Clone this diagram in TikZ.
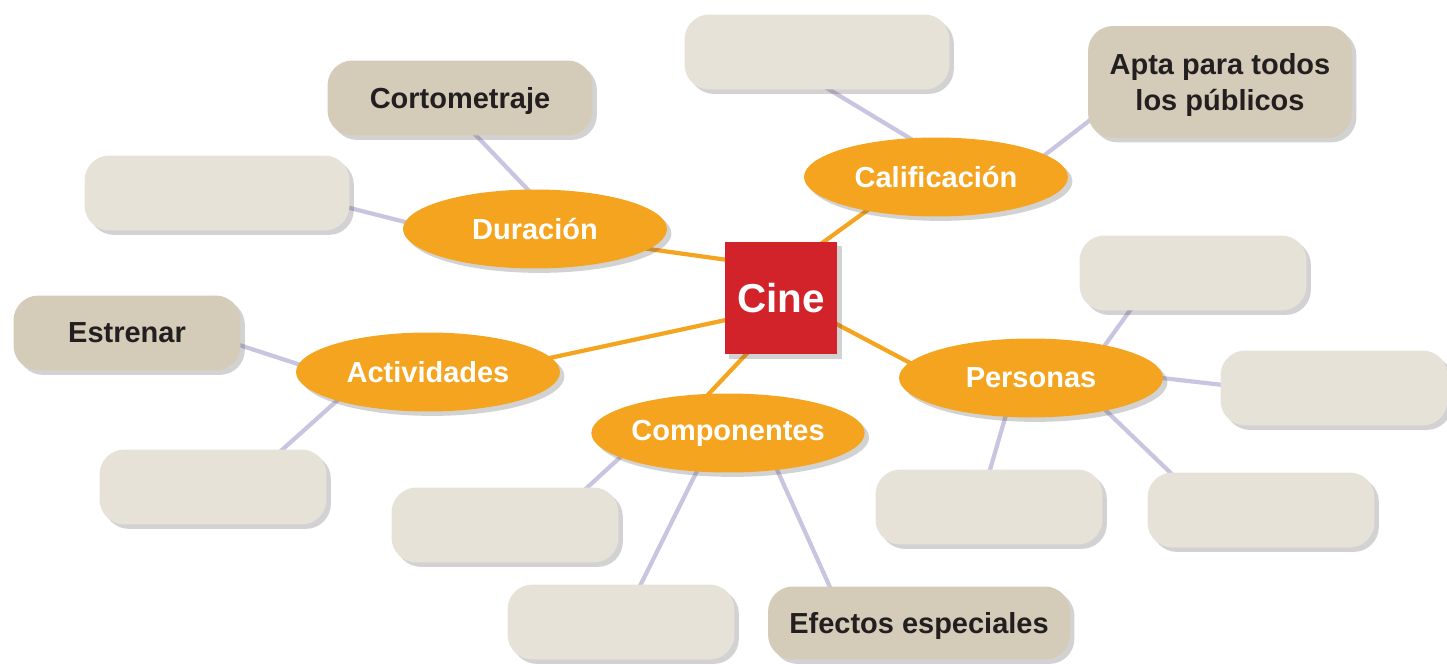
\documentclass[tikz,border=0pt]{standalone}
\usepackage{fontspec}
\setmainfont{Liberation Sans}
\usetikzlibrary{shapes.geometric,shadows,calc,backgrounds}
\definecolor{cinered}{HTML}{D2232A}
\definecolor{ovalorange}{HTML}{F5A41F}
\definecolor{leafdark}{HTML}{D4CBB8}
\definecolor{leaflight}{HTML}{E6E2D7}
\definecolor{linklilac}{HTML}{C9C5E0}
\definecolor{inkdark}{HTML}{231F20}
\tikzset{
  softshadow/.style={drop shadow={shadow xshift=2.5pt,shadow yshift=-2.5pt,opacity=0.25,fill=black!70}},
  hub/.style={fill=cinered,text=white,minimum size=2.26cm,inner sep=0pt,softshadow,
    font=\fontsize{23}{26}\selectfont\bfseries},
  oval/.style={ellipse,fill=ovalorange,text=white,minimum width=5.28cm,minimum height=1.58cm,
    inner sep=0pt,softshadow,font=\fontsize{16.5}{18.5}\selectfont\bfseries},
  leaf/.style={rounded corners=0.5cm,fill=leaflight,minimum width=4.54cm,minimum height=1.5cm,
    inner sep=0pt,softshadow,text=inkdark,align=center,text depth=0pt,
    font=\fontsize{16.5}{20}\selectfont\bfseries},
  leafset/.style={leaf,fill=leafdark},
  mainlink/.style={draw=ovalorange,line width=2.4pt},
  sublink/.style={draw=linklilac,line width=2.4pt}
}
\begin{document}
\begin{tikzpicture}[x=0.02cm,y=-0.02cm]
  \useasboundingbox (0,0) rectangle (1447,665);
  {
  % Centre box
  \node [hub] (cine) at (781,298) {Cine};

  % Ovals round the centre
  \node [oval] (dur) at (535,229) {Duración};
  \node [oval] (cal) at (936,177) {Calificación};
  \node [oval] (act) at (428,372) {Actividades};
  \node [oval] (comp) at (728,433) {Componentes};
  \node [oval] (pers) at (1031,378) {Personas};

  % Leaves of Duración
  \node [leafset,minimum width=5.3cm] (corto) at (460,98) {Cortometraje};
  \node [leaf,minimum width=5.3cm] (durb) at (217,193) {};

  % Leaves of Calificación
  \node [leaf,minimum width=5.3cm] (calb) at (817,52) {};
  \node [leafset,minimum width=5.28cm,minimum height=2.24cm] (apta) at (1220,82) {Apta para todos\\los públicos};

  % Leaves of Actividades
  \node [leafset] (estr) at (127,333) {Estrenar};
  \node [leaf] (actb) at (213,487) {};

  % Leaves of Componentes
  \node [leaf] (compa) at (505,525) {};
  \node [leaf] (compb) at (621,622) {};
  \node [leafset,minimum width=6.04cm,minimum height=1.46cm] (efx) at (919,623) {Efectos especiales};

  % Leaves of Personas
  \node [leaf] (persa) at (1193,273) {};
  \node [leaf] (persb) at (1334,388) {};
  \node [leaf] (persc) at (989,507) {};
  \node [leaf] (persd) at (1261,510) {};

  \begin{scope}[on background layer]
  % Drawing links from the centre
  \draw [mainlink] ($(cine)+(37,-52)$) -- ($(cal)+(-60,27)$);
  \draw [mainlink] ($(cine)+(-46,-37)$) -- ($(dur)+(110,19.5)$);
  \draw [mainlink] ($(cine)+(-46,20)$) -- ($(act)+(117,-13)$);
  \draw [mainlink] ($(cine)+(-29,50)$) -- ($(comp)+(-25,-33)$);
  \draw [mainlink] ($(cine)+(48,22)$) -- ($(pers)+(-117,-13)$);

  % Drawing links to the leaves
  \draw [sublink] ($(corto)+(8,29)$) -- ($(dur)+(-3,-35)$);
  \draw [sublink] ($(durb)+(123,12.5)$) -- ($(dur)+(-120,-4.5)$);
  \draw [sublink] ($(calb)+(8,35)$) -- ($(cal)+(-20,-35)$);
  \draw [sublink] ($(apta)+(-122,32)$) -- ($(cal)+(101,-16)$);
  \draw [sublink] ($(estr)+(103,9)$) -- ($(act)+(-118,-4)$);
  \draw [sublink] ($(actb)+(60,-29)$) -- ($(act)+(-88,26)$);
  \draw [sublink] ($(compa)+(73,-29)$) -- ($(comp)+(-101,18)$);
  \draw [sublink] ($(compb)+(15,-28)$) -- ($(comp)+(-27,30)$);
  \draw [sublink] ($(efx)+(-85,-27)$) -- ($(comp)+(46,30)$);
  \draw [sublink] ($(persa)+(-57,29)$) -- ($(pers)+(69,-26)$);
  \draw [sublink] ($(persb)+(-102,-2)$) -- ($(pers)+(122,-1)$);
  \draw [sublink] ($(persc)+(-2,-27)$) -- ($(pers)+(-23,30)$);
  \draw [sublink] ($(persd)+(-82,-29)$) -- ($(pers)+(67,25)$);
  \end{scope}
  }
\end{tikzpicture}
\end{document}
